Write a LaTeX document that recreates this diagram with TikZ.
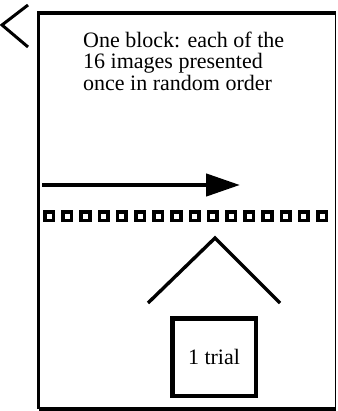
\documentclass[tikz,border=0pt]{standalone}
\usepackage{fontspec}
\setmainfont{Liberation Serif}
\usetikzlibrary{arrows.meta}

\begin{document}
\begin{tikzpicture}[x=1pt,y=-1pt,
  stimsq/.style={draw,line width=3.6pt,minimum size=8.6pt,inner sep=0pt},
  trialbox/.style={draw,line width=4.5pt,minimum width=83.5pt,minimum height=77.5pt,inner sep=0pt},
  frame/.style={line width=3.8pt}]
 \useasboundingbox (0,0) rectangle (337,411);
% block frame: thick on three sides, thin on the right
 \coordinate (tl) at (38.5,13);
 \coordinate (tr) at (335.5,13);
 \coordinate (bl) at (38.5,409.2);
 \coordinate (br) at (335.5,409.2);
 \draw[frame] (bl) -- (tl) -- (tr);
 \draw[frame] (bl) -- (br);
 \draw[line width=1.2pt] (tr) -- (br);
% back mark
 \coordinate (bk1) at (28,5);
 \coordinate (bk2) at (2,25);
 \coordinate (bk3) at (28,47);
 \draw[line width=3pt] (bk1) -- (bk2) -- (bk3);

 \node[anchor=north west,align=left,inner sep=0pt,
       font=\fontsize{22}{21.2}\selectfont] (desc) at (83,32)
   {One block: each of the\\16 images presented\\once in random order};

% time arrow
 \coordinate (ts) at (42,185);
 \coordinate (te) at (240,185);
 \draw[line width=4.5pt,-{Triangle[length=34pt,width=22pt]}] (ts) -- (te);

% the 16 images
 \foreach \i in {1,...,16}
   \node[stimsq] (sq\i) at ({49+(\i-1)*18.2},216) {};

 \coordinate (roofL) at (148,303);
 \coordinate (apex) at (215,238);
 \coordinate (roofR) at (280,303);
 \draw[line width=3.4pt] (roofL) -- (apex) -- (roofR);

 \node[trialbox,font=\fontsize{22}{24}\selectfont] (trial) at (214,357) {1 trial};
\end{tikzpicture}
\end{document}
